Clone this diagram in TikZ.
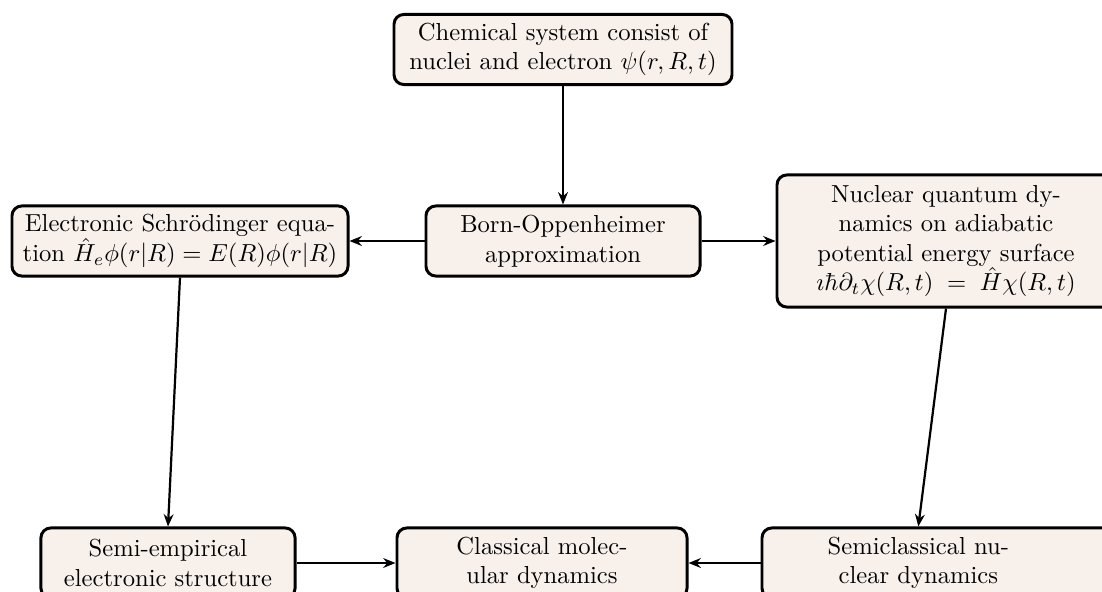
\documentclass[tikz,border=0pt]{standalone}
\usetikzlibrary{arrows.meta}
\definecolor{boxfill}{RGB}{247,240,235}
\tikzset{
  box/.style={draw=black, line width=1.2pt, rounded corners=4pt, fill=boxfill,
    align=center, minimum height=28.5pt, inner sep=2pt, font=\normalsize},
  conn/.style={line width=0.9pt, -{Stealth[length=5pt,width=4pt]}}
}
\begin{document}
\begin{tikzpicture}[x=0.4065pt, y=-0.4065pt]
\useasboundingbox (0,0) rectangle (1102,591);
\clip (0,0) rectangle (1102,591);
\node[box, minimum width=137.4pt] (top) at (563,49.5)
  {Chemical system consist of\\nuclei and electron $\psi(r,R,t)$};
\node[box, minimum width=111.4pt] (bo) at (563,241)
  {Born-Oppenheimer\\approximation};
\node[box, minimum width=136.6pt] (left) at (180,241)
  {Electronic Schr\"odinger equa-\\tion $\hat{H}_e\phi(r|R) = E(R)\phi(r|R)$};
\node[box, minimum width=137.4pt, minimum height=53.7pt] (right) at (946,241)
  {Nuclear quantum dy-\\namics on adiabatic\\potential energy surface\\$\imath\hbar\partial_t\chi(R,t) \;=\; \hat{H}\chi(R,t)$};
\node[box, minimum width=103.3pt] (semi) at (168,563)
  {Semi-empirical\\electronic structure};
\node[box, minimum width=117.9pt] (classic) at (542,563)
  {Classical molec-\\ular dynamics};
\node[box, minimum width=143.1pt] (semic) at (938,563)
  {\hspace*{-16pt}Semiclassical nu-\\\hspace*{-16pt}clear dynamics};
\draw[conn] (top.south) -- (bo.north);
\draw[conn] (bo.west) -- (left.east);
\draw[conn] (bo.east) -- (right.west);
\draw[conn] (left.south) -- (semi.north);
\draw[conn] (right.south) -- ([xshift=-8pt]semic.north);
\draw[conn] (semi.east) -- (classic.west);
\draw[conn] (semic.west) -- (classic.east);
\end{tikzpicture}
\end{document}
